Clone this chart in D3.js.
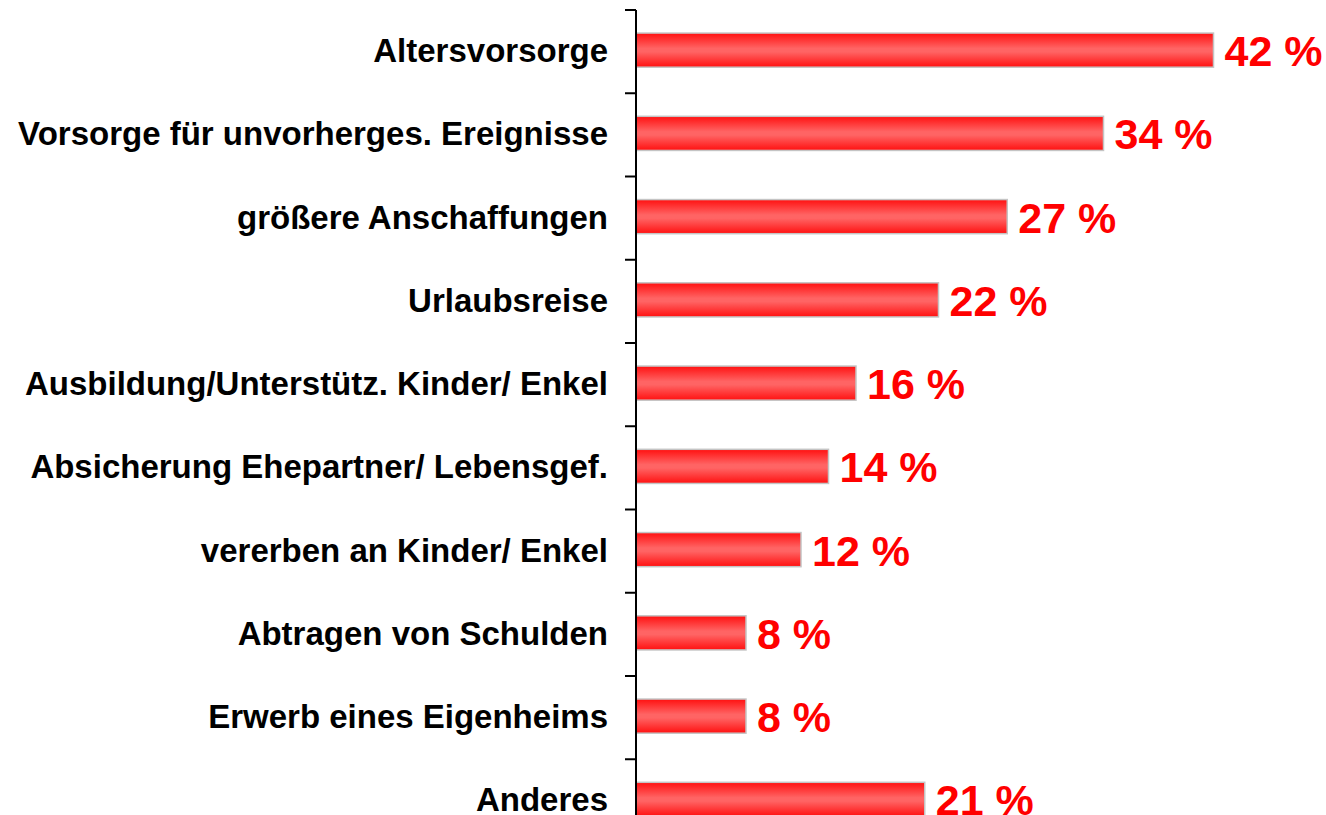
<!DOCTYPE html>
<html><head><meta charset="utf-8">
<script src="https://cdn.jsdelivr.net/npm/d3@7/dist/d3.min.js"></script>
<style>html,body{margin:0;padding:0;background:#fff;overflow:hidden}</style>
</head><body>
<svg id="c" width="1326" height="815"></svg>
<script>
const categories = ["Altersvorsorge","Vorsorge für unvorherges. Ereignisse","größere Anschaffungen","Urlaubsreise","Ausbildung/Unterstütz. Kinder/ Enkel","Absicherung Ehepartner/ Lebensgef.","vererben an Kinder/ Enkel","Abtragen von Schulden","Erwerb eines Eigenheims","Anderes"];
const values = [42,34,27,22,16,14,12,8,8,21];
const valueLabels = values.map(v => v + " %");

const svg = d3.select("#c");
const axisX = 636;
const y = d3.scaleBand().domain(categories).range([10, 842.5]).paddingInner(0.59).paddingOuter(0.295);
const x = d3.scaleLinear().domain([0, 50]).range([axisX, axisX + 687.5]);

const defs = svg.append("defs");
const g = defs.append("linearGradient").attr("id","bar").attr("x1",0).attr("y1",0).attr("x2",0).attr("y2",1);
g.append("stop").attr("offset","0%").attr("stop-color","#ff1010");
g.append("stop").attr("offset","45%").attr("stop-color","#ff6464");
g.append("stop").attr("offset","55%").attr("stop-color","#ff6464");
g.append("stop").attr("offset","100%").attr("stop-color","#ff1010");

// bars
svg.selectAll("rect.bar").data(categories).enter().append("rect")
  .attr("class","bar")
  .attr("x", x(0))
  .attr("y", d => y(d) - 1.5)
  .attr("width", (d,i) => x(values[i]) - x(0))
  .attr("height", y.bandwidth())
  .attr("fill","url(#bar)")
  .attr("stroke","#c4c4c4")
  .attr("stroke-width",1.5);

// axis line and ticks at band boundaries
const step = y.step();
const r0 = y.range()[0];
const boundaries = d3.range(categories.length + 1).map(i => r0 + i * step);
svg.append("line").attr("x1",axisX).attr("x2",axisX).attr("y1",r0).attr("y2",850)
  .attr("stroke","#000").attr("stroke-width",2);
svg.selectAll("line.tick").data(boundaries).enter().append("line")
  .attr("class","tick")
  .attr("x1",axisX - 11).attr("x2",axisX).attr("y1",d=>d).attr("y2",d=>d)
  .attr("stroke","#000").attr("stroke-width",2);

// category labels
svg.selectAll("text.cat").data(categories).enter().append("text")
  .attr("class","cat")
  .attr("x", 608)
  .attr("y", d => y(d) + y.bandwidth()/2 + 10.5)
  .attr("text-anchor","end")
  .attr("font-family","'Liberation Sans', Arial, sans-serif")
  .attr("font-weight","bold")
  .attr("font-size","33px")
  .attr("fill","#000")
  .text(d => d);

// value labels
svg.selectAll("text.val").data(categories).enter().append("text")
  .attr("class","val")
  .attr("x", (d,i) => x(values[i]) + 11)
  .attr("y", d => y(d) + y.bandwidth()/2 + 14.5)
  .attr("font-family","'Liberation Sans', Arial, sans-serif")
  .attr("font-weight","bold")
  .attr("font-size","43px")
  .attr("fill","#ff0000")
  .text((d,i) => valueLabels[i]);
</script>
</body></html>
